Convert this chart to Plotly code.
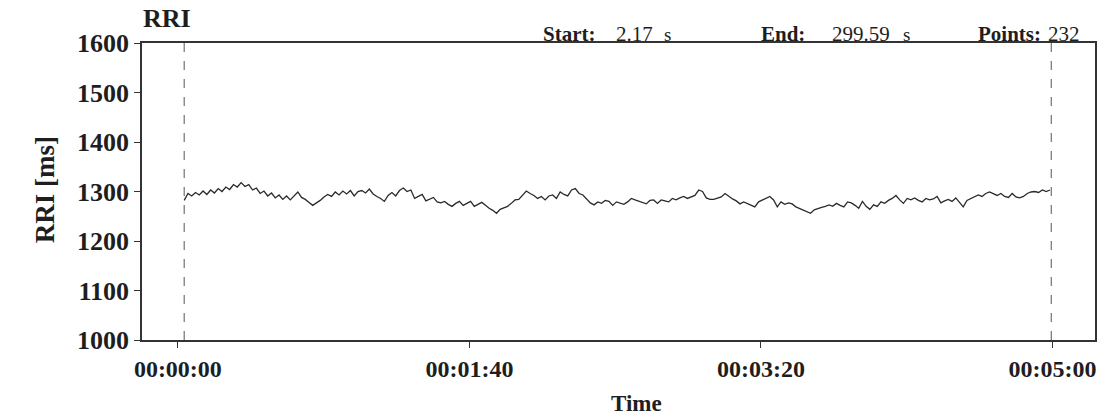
import numpy as np
import plotly.graph_objects as go

start_s = 2.17
end_s = 299.59
n_points = 232

# RR intervals [ms] (232 beats)
rri_ms = [
    1282, 1296, 1291, 1298, 1293, 1301, 1294, 1303, 1297, 1306,
    1300, 1309, 1304, 1314, 1309, 1318, 1310, 1314, 1303, 1307,
    1296, 1301, 1291, 1297, 1287, 1293, 1284, 1291, 1283, 1290,
    1299, 1288, 1284, 1278, 1272, 1277, 1282, 1289, 1294, 1290,
    1299, 1293, 1301, 1295, 1302, 1291, 1300,
    1302, 1297, 1305, 1295, 1290, 1286, 1280, 1292, 1298, 1291,
    1302, 1307, 1300, 1303, 1286, 1290, 1294, 1281, 1285, 1288,
    1279, 1277, 1280, 1274, 1270, 1276, 1280, 1272, 1276, 1280,
    1270, 1274, 1278, 1272, 1266, 1262, 1256, 1264, 1267, 1270,
    1276, 1283, 1284, 1292, 1301, 1296, 1292, 1286,
    1290, 1283, 1291, 1293, 1286, 1299, 1294, 1291, 1303, 1306,
    1296, 1293, 1284, 1277, 1273, 1279, 1276, 1282, 1280, 1272,
    1279, 1276, 1274, 1279, 1286, 1283, 1280, 1278, 1275, 1282,
    1283, 1276, 1283, 1281, 1279, 1286, 1283, 1287, 1290, 1286,
    1289, 1292, 1303, 1300, 1287, 1284, 1284, 1286,
    1289, 1296, 1290, 1285, 1281, 1275, 1279, 1276, 1273, 1269,
    1279, 1283, 1287, 1290, 1283, 1269, 1279, 1274, 1277, 1275,
    1269, 1266, 1262, 1259, 1256, 1263, 1266, 1268, 1270, 1273,
    1270, 1276, 1272, 1269, 1279, 1277, 1272, 1266, 1280, 1270,
    1264, 1273, 1270, 1279, 1276, 1282, 1286, 1292,
    1283, 1276, 1286, 1283, 1287, 1282, 1279, 1286, 1283, 1285,
    1290, 1277, 1281, 1284, 1280, 1287, 1278, 1269, 1282, 1286,
    1290, 1293, 1290, 1296, 1299, 1296, 1292, 1296, 1290, 1288,
    1296, 1289, 1287, 1290, 1296, 1299, 1300, 1298, 1303, 1300,
    1303,
]

# beat times: each beat follows the previous one by its RR interval
time_s = start_s + np.concatenate([[0.0], np.cumsum(np.array(rri_ms[1:]) / 1000.0)])

tick_vals = [0, 100, 200, 300]
tick_text = ["00:00:00", "00:01:40", "00:03:20", "00:05:00"]
y_ticks = [1000, 1100, 1200, 1300, 1400, 1500, 1600]

FONT = "Liberation Serif"
INK = "#1e1e1e"

fig = go.Figure()
fig.add_trace(go.Scatter(
    x=time_s, y=rri_ms, mode="lines",
    line=dict(color="#2a2a2a", width=1.3),
    showlegend=False, hoverinfo="skip",
))

for xv in (start_s, end_s):
    fig.add_shape(type="line", xref="x", yref="paper", x0=xv, x1=xv, y0=0, y1=1,
                  line=dict(color="#555555", width=1, dash="dash"))

L, R, T, B = 142, 6, 43, 75
W, H = 1103, 415
pw = W - L - R
ph = H - T - B

def px(xp):
    return (xp - L) / pw

def py(yp):
    return (H - B - yp) / ph

axis_common = dict(
    ticks="outside", ticklen=6, tickcolor="#333333", tickwidth=1,
    showline=True, linecolor="#333333", linewidth=1.5, mirror=True,
    showgrid=False, zeroline=False, ticklabeloverflow="allow",
)

fig.update_layout(
    width=W, height=H,
    margin=dict(l=L, r=R, t=T, b=B),
    paper_bgcolor="white", plot_bgcolor="white",
    font=dict(family=FONT, color=INK),
    xaxis=dict(range=[-12.3, 314.6], tickmode="array", tickvals=tick_vals,
               ticktext=tick_text,
               tickfont=dict(family=FONT, size=24, weight="bold", color=INK),
               **axis_common),
    yaxis=dict(range=[1000, 1600], tickmode="array", tickvals=y_ticks,
               tickfont=dict(family=FONT, size=26, weight="bold", color=INK),
               **axis_common),
)

ann = []
def add(text, xp, yp, size, bold=False, xanchor="left", angle=0):
    ann.append(dict(
        text=text, xref="paper", yref="paper", x=px(xp), y=py(yp),
        xanchor=xanchor, yanchor="middle", showarrow=False, textangle=angle,
        font=dict(family=FONT, size=size, color=INK, weight="bold" if bold else "normal"),
    ))

add("RRI", 141, 18, 26, bold=True)
add("Start:", 542, 34, 21, bold=True)
add(f"{start_s:.2f}", 615, 34, 21)
add("s", 663, 35, 19)
add("End:", 760, 34, 21, bold=True)
add(f"{end_s:.2f}", 831, 34, 21)
add("s", 903, 35, 19)
add("Points:", 978, 34, 21, bold=True)
add(f"{n_points}", 1048, 34, 21)
add("RRI [ms]", 45, 190, 27, bold=True, xanchor="center", angle=-90)
add("Time", 638, 403, 23, bold=True, xanchor="center")

fig.update_layout(annotations=ann)

fig.write_html(
    "out.html", config={"displayModeBar": False},
    post_script=("document.body.style.margin='0px';"
                 "document.body.style.overflow='hidden';"
                 "document.documentElement.style.overflow='hidden';"),
)
